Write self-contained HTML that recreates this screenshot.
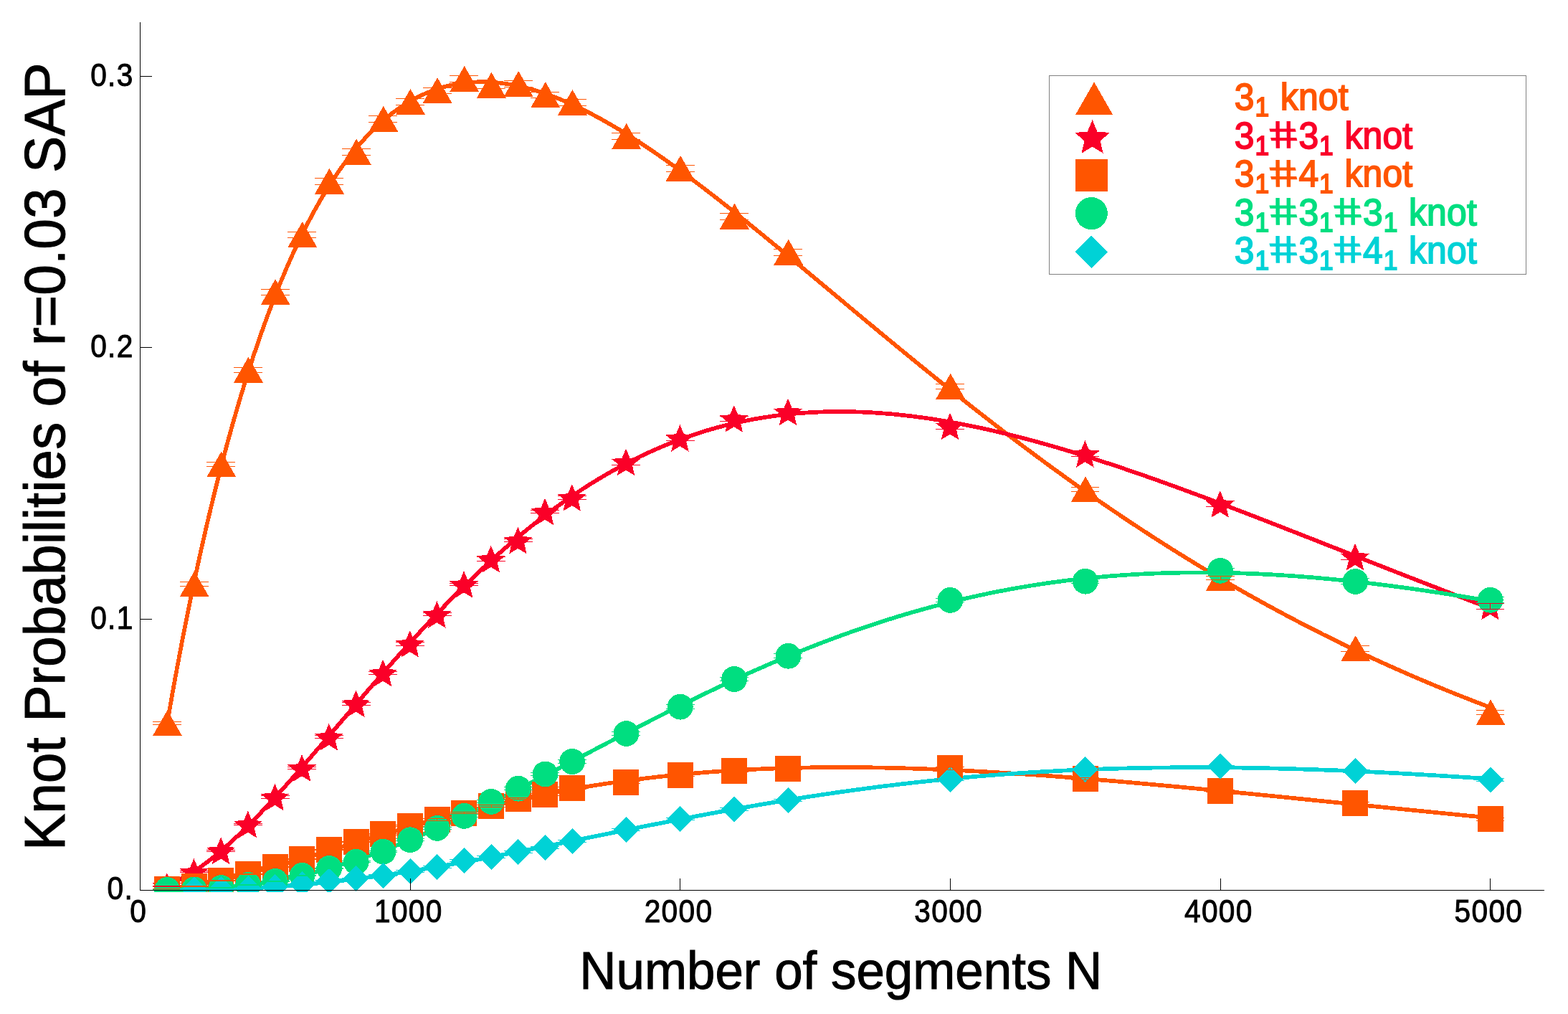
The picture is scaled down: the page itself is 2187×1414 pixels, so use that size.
<!DOCTYPE html>
<html lang="en"><head><meta charset="utf-8"><title>Knot Probabilities of r=0.03 SAP</title>
<style>html,body{margin:0;padding:0;background:#fff;}body{width:2187px;height:1414px;overflow:hidden;}svg{display:block;}text{font-family:"Liberation Sans",sans-serif;}</style>
</head><body>
<svg width="2187" height="1414" viewBox="0 0 2187 1414" role="img" aria-label="Knot Probabilities of r=0.03 SAP versus Number of segments N">
<rect width="2187" height="1414" fill="#fff"/>
<defs><clipPath id="pc"><rect x="190" y="20" width="1980" height="1224"/></clipPath></defs>
<g clip-path="url(#pc)">
<g fill="none" stroke-width="5.7" stroke-linejoin="round" shape-rendering="crispEdges">
<path d="M233.16 1008.66 L242.44 956.01 L251.71 906.15 L260.99 858.84 L270.26 813.87 L279.54 771.1 L288.81 730.41 L298.09 691.68 L307.36 654.82 L316.63 619.75 L325.91 586.37 L335.18 554.62 L344.46 524.44 L353.73 495.75 L363.01 468.51 L372.28 442.65 L381.55 418.12 L390.83 394.87 L400.1 372.86 L409.38 352.03 L418.65 332.35 L427.93 313.78 L437.2 296.28 L446.47 279.8 L455.75 264.31 L465.02 249.77 L474.3 236.16 L483.57 223.44 L492.85 211.57 L502.12 200.54 L511.39 190.3 L520.67 180.83 L529.94 172.1 L539.22 164.09 L548.49 156.77 L557.77 150.11 L567.04 144.1 L576.31 138.71 L585.59 133.91 L594.86 129.69 L604.14 126.02 L613.41 122.89 L622.69 120.27 L631.96 118.14 L641.23 116.49 L650.51 115.3 L659.78 114.56 L669.06 114.23 L678.33 114.32 L687.61 114.8 L696.88 115.66 L706.15 116.87 L715.43 118.44 L724.7 120.35 L733.98 122.57 L743.25 125.1 L752.53 127.93 L761.8 131.04 L771.07 134.42 L780.35 138.06 L789.62 141.95 L798.9 146.08 L808.17 150.43 L817.45 155.01 L826.72 159.79 L835.99 164.76 L845.27 169.93 L854.54 175.28 L863.82 180.8 L873.09 186.48 L882.37 192.31 L891.64 198.29 L900.91 204.41 L910.19 210.66 L919.46 217.04 L928.74 223.54 L938.01 230.14 L947.29 236.85 L956.56 243.66 L965.83 250.56 L975.11 257.55 L984.38 264.62 L993.66 271.76 L1002.93 278.97 L1012.21 286.25 L1021.48 293.59 L1030.75 300.98 L1040.03 308.42 L1049.3 315.91 L1058.58 323.44 L1067.85 331.01 L1077.13 338.61 L1086.4 346.24 L1095.67 353.9 L1104.95 361.58 L1114.22 369.27 L1123.5 376.99 L1132.77 384.71 L1142.05 392.45 L1151.32 400.19 L1160.59 407.93 L1169.87 415.67 L1179.14 423.42 L1188.42 431.15 L1197.69 438.88 L1206.97 446.6 L1216.24 454.31 L1225.51 462 L1234.79 469.67 L1244.06 477.33 L1253.34 484.97 L1262.61 492.58 L1271.89 500.17 L1281.16 507.74 L1290.43 515.27 L1299.71 522.78 L1308.98 530.26 L1318.26 537.7 L1327.53 545.12 L1336.81 552.49 L1346.08 559.84 L1355.35 567.14 L1364.63 574.41 L1373.9 581.63 L1383.18 588.82 L1392.45 595.96 L1401.73 603.06 L1411 610.12 L1420.27 617.14 L1429.55 624.11 L1438.82 631.03 L1448.1 637.91 L1457.37 644.74 L1466.65 651.53 L1475.92 658.27 L1485.2 664.95 L1494.47 671.59 L1503.74 678.18 L1513.02 684.72 L1522.29 691.21 L1531.57 697.65 L1540.84 704.03 L1550.12 710.37 L1559.39 716.65 L1568.66 722.88 L1577.94 729.06 L1587.21 735.19 L1596.49 741.27 L1605.76 747.29 L1615.04 753.26 L1624.31 759.17 L1633.58 765.04 L1642.86 770.85 L1652.13 776.61 L1661.41 782.31 L1670.68 787.96 L1679.96 793.56 L1689.23 799.11 L1698.5 804.6 L1707.78 810.04 L1717.05 815.43 L1726.33 820.76 L1735.6 826.05 L1744.88 831.28 L1754.15 836.45 L1763.42 841.58 L1772.7 846.65 L1781.97 851.67 L1791.25 856.64 L1800.52 861.56 L1809.8 866.43 L1819.07 871.25 L1828.34 876.01 L1837.62 880.73 L1846.89 885.39 L1856.17 890.01 L1865.44 894.57 L1874.72 899.09 L1883.99 903.56 L1893.26 907.97 L1902.54 912.34 L1911.81 916.67 L1921.09 920.94 L1930.36 925.16 L1939.64 929.34 L1948.91 933.47 L1958.18 937.56 L1967.46 941.6 L1976.73 945.59 L1986.01 949.53 L1995.28 953.43 L2004.56 957.29 L2013.83 961.1 L2023.1 964.87 L2032.38 968.59 L2041.65 972.27 L2050.93 975.9 L2060.2 979.5 L2069.48 983.05 L2078.75 986.55" stroke="#ff5500"/>
<path d="M233.16 1234.47 L242.44 1230.68 L251.71 1226.2 L260.99 1221.07 L270.26 1215.34 L279.54 1209.07 L288.81 1202.29 L298.09 1195.05 L307.36 1187.37 L316.63 1179.3 L325.91 1170.86 L335.18 1162.09 L344.46 1153.02 L353.73 1143.68 L363.01 1134.1 L372.28 1124.29 L381.55 1114.29 L390.83 1104.12 L400.1 1093.79 L409.38 1083.34 L418.65 1072.78 L427.93 1062.12 L437.2 1051.4 L446.47 1040.62 L455.75 1029.79 L465.02 1018.95 L474.3 1008.09 L483.57 997.24 L492.85 986.4 L502.12 975.6 L511.39 964.83 L520.67 954.12 L529.94 943.47 L539.22 932.89 L548.49 922.39 L557.77 911.98 L567.04 901.67 L576.31 891.47 L585.59 881.38 L594.86 871.4 L604.14 861.56 L613.41 851.84 L622.69 842.26 L631.96 832.83 L641.23 823.54 L650.51 814.4 L659.78 805.41 L669.06 796.59 L678.33 787.92 L687.61 779.42 L696.88 771.09 L706.15 762.93 L715.43 754.94 L724.7 747.12 L733.98 739.48 L743.25 732.02 L752.53 724.74 L761.8 717.63 L771.07 710.71 L780.35 703.97 L789.62 697.4 L798.9 691.02 L808.17 684.83 L817.45 678.81 L826.72 672.97 L835.99 667.32 L845.27 661.85 L854.54 656.56 L863.82 651.44 L873.09 646.51 L882.37 641.75 L891.64 637.17 L900.91 632.77 L910.19 628.54 L919.46 624.48 L928.74 620.6 L938.01 616.88 L947.29 613.34 L956.56 609.96 L965.83 606.75 L975.11 603.7 L984.38 600.81 L993.66 598.08 L1002.93 595.51 L1012.21 593.1 L1021.48 590.84 L1030.75 588.73 L1040.03 586.78 L1049.3 584.97 L1058.58 583.31 L1067.85 581.79 L1077.13 580.42 L1086.4 579.18 L1095.67 578.08 L1104.95 577.12 L1114.22 576.29 L1123.5 575.59 L1132.77 575.02 L1142.05 574.58 L1151.32 574.26 L1160.59 574.06 L1169.87 573.98 L1179.14 574.02 L1188.42 574.18 L1197.69 574.45 L1206.97 574.83 L1216.24 575.32 L1225.51 575.91 L1234.79 576.61 L1244.06 577.41 L1253.34 578.31 L1262.61 579.31 L1271.89 580.41 L1281.16 581.6 L1290.43 582.88 L1299.71 584.24 L1308.98 585.7 L1318.26 587.24 L1327.53 588.86 L1336.81 590.57 L1346.08 592.35 L1355.35 594.21 L1364.63 596.14 L1373.9 598.15 L1383.18 600.23 L1392.45 602.38 L1401.73 604.59 L1411 606.87 L1420.27 609.22 L1429.55 611.62 L1438.82 614.08 L1448.1 616.61 L1457.37 619.19 L1466.65 621.82 L1475.92 624.5 L1485.2 627.24 L1494.47 630.03 L1503.74 632.86 L1513.02 635.74 L1522.29 638.66 L1531.57 641.63 L1540.84 644.64 L1550.12 647.68 L1559.39 650.77 L1568.66 653.89 L1577.94 657.05 L1587.21 660.24 L1596.49 663.46 L1605.76 666.72 L1615.04 670 L1624.31 673.31 L1633.58 676.65 L1642.86 680.02 L1652.13 683.41 L1661.41 686.82 L1670.68 690.26 L1679.96 693.71 L1689.23 697.19 L1698.5 700.68 L1707.78 704.19 L1717.05 707.72 L1726.33 711.26 L1735.6 714.82 L1744.88 718.39 L1754.15 721.97 L1763.42 725.56 L1772.7 729.16 L1781.97 732.77 L1791.25 736.39 L1800.52 740.02 L1809.8 743.65 L1819.07 747.29 L1828.34 750.93 L1837.62 754.58 L1846.89 758.23 L1856.17 761.88 L1865.44 765.53 L1874.72 769.18 L1883.99 772.83 L1893.26 776.48 L1902.54 780.13 L1911.81 783.78 L1921.09 787.42 L1930.36 791.06 L1939.64 794.7 L1948.91 798.33 L1958.18 801.95 L1967.46 805.57 L1976.73 809.18 L1986.01 812.79 L1995.28 816.38 L2004.56 819.97 L2013.83 823.55 L2023.1 827.12 L2032.38 830.68 L2041.65 834.23 L2050.93 837.77 L2060.2 841.29 L2069.48 844.81 L2078.75 848.31" stroke="#fa0028"/>
<path d="M233.16 1239.47 L242.44 1238.48 L251.71 1237.33 L260.99 1236.01 L270.26 1234.54 L279.54 1232.94 L288.81 1231.21 L298.09 1229.36 L307.36 1227.41 L316.63 1225.35 L325.91 1223.2 L335.18 1220.97 L344.46 1218.66 L353.73 1216.28 L363.01 1213.84 L372.28 1211.34 L381.55 1208.79 L390.83 1206.2 L400.1 1203.57 L409.38 1200.9 L418.65 1198.21 L427.93 1195.49 L437.2 1192.75 L446.47 1190 L455.75 1187.24 L465.02 1184.47 L474.3 1181.69 L483.57 1178.92 L492.85 1176.15 L502.12 1173.38 L511.39 1170.63 L520.67 1167.89 L529.94 1165.16 L539.22 1162.45 L548.49 1159.76 L557.77 1157.1 L567.04 1154.46 L576.31 1151.84 L585.59 1149.25 L594.86 1146.7 L604.14 1144.17 L613.41 1141.68 L622.69 1139.22 L631.96 1136.8 L641.23 1134.41 L650.51 1132.07 L659.78 1129.76 L669.06 1127.49 L678.33 1125.26 L687.61 1123.08 L696.88 1120.94 L706.15 1118.84 L715.43 1116.78 L724.7 1114.77 L733.98 1112.81 L743.25 1110.89 L752.53 1109.01 L761.8 1107.18 L771.07 1105.4 L780.35 1103.66 L789.62 1101.97 L798.9 1100.33 L808.17 1098.73 L817.45 1097.18 L826.72 1095.67 L835.99 1094.22 L845.27 1092.8 L854.54 1091.44 L863.82 1090.12 L873.09 1088.84 L882.37 1087.62 L891.64 1086.43 L900.91 1085.29 L910.19 1084.2 L919.46 1083.15 L928.74 1082.15 L938.01 1081.19 L947.29 1080.27 L956.56 1079.4 L965.83 1078.56 L975.11 1077.77 L984.38 1077.02 L993.66 1076.32 L1002.93 1075.65 L1012.21 1075.02 L1021.48 1074.44 L1030.75 1073.89 L1040.03 1073.38 L1049.3 1072.91 L1058.58 1072.48 L1067.85 1072.08 L1077.13 1071.72 L1086.4 1071.4 L1095.67 1071.11 L1104.95 1070.86 L1114.22 1070.64 L1123.5 1070.46 L1132.77 1070.31 L1142.05 1070.19 L1151.32 1070.1 L1160.59 1070.05 L1169.87 1070.02 L1179.14 1070.03 L1188.42 1070.06 L1197.69 1070.13 L1206.97 1070.22 L1216.24 1070.34 L1225.51 1070.49 L1234.79 1070.67 L1244.06 1070.87 L1253.34 1071.1 L1262.61 1071.35 L1271.89 1071.63 L1281.16 1071.93 L1290.43 1072.26 L1299.71 1072.61 L1308.98 1072.98 L1318.26 1073.37 L1327.53 1073.79 L1336.81 1074.22 L1346.08 1074.68 L1355.35 1075.16 L1364.63 1075.65 L1373.9 1076.17 L1383.18 1076.7 L1392.45 1077.25 L1401.73 1077.82 L1411 1078.4 L1420.27 1079 L1429.55 1079.62 L1438.82 1080.25 L1448.1 1080.9 L1457.37 1081.56 L1466.65 1082.24 L1475.92 1082.93 L1485.2 1083.63 L1494.47 1084.35 L1503.74 1085.07 L1513.02 1085.81 L1522.29 1086.57 L1531.57 1087.33 L1540.84 1088.1 L1550.12 1088.88 L1559.39 1089.68 L1568.66 1090.48 L1577.94 1091.29 L1587.21 1092.11 L1596.49 1092.94 L1605.76 1093.78 L1615.04 1094.62 L1624.31 1095.48 L1633.58 1096.34 L1642.86 1097.2 L1652.13 1098.07 L1661.41 1098.95 L1670.68 1099.84 L1679.96 1100.73 L1689.23 1101.62 L1698.5 1102.52 L1707.78 1103.42 L1717.05 1104.33 L1726.33 1105.24 L1735.6 1106.16 L1744.88 1107.08 L1754.15 1108 L1763.42 1108.92 L1772.7 1109.85 L1781.97 1110.78 L1791.25 1111.71 L1800.52 1112.64 L1809.8 1113.58 L1819.07 1114.52 L1828.34 1115.45 L1837.62 1116.39 L1846.89 1117.33 L1856.17 1118.27 L1865.44 1119.21 L1874.72 1120.15 L1883.99 1121.09 L1893.26 1122.03 L1902.54 1122.97 L1911.81 1123.91 L1921.09 1124.85 L1930.36 1125.79 L1939.64 1126.72 L1948.91 1127.66 L1958.18 1128.59 L1967.46 1129.52 L1976.73 1130.45 L1986.01 1131.38 L1995.28 1132.31 L2004.56 1133.23 L2013.83 1134.15 L2023.1 1135.07 L2032.38 1135.99 L2041.65 1136.9 L2050.93 1137.81 L2060.2 1138.72 L2069.48 1139.63 L2078.75 1140.53" stroke="#ff5500"/>
<path d="M233.16 1241.26 L242.44 1241.13 L251.71 1240.95 L260.99 1240.69 L270.26 1240.37 L279.54 1239.96 L288.81 1239.46 L298.09 1238.87 L307.36 1238.18 L316.63 1237.39 L325.91 1236.49 L335.18 1235.48 L344.46 1234.36 L353.73 1233.13 L363.01 1231.78 L372.28 1230.31 L381.55 1228.72 L390.83 1227.02 L400.1 1225.19 L409.38 1223.25 L418.65 1221.19 L427.93 1219.01 L437.2 1216.71 L446.47 1214.3 L455.75 1211.77 L465.02 1209.13 L474.3 1206.38 L483.57 1203.51 L492.85 1200.54 L502.12 1197.47 L511.39 1194.29 L520.67 1191.02 L529.94 1187.64 L539.22 1184.17 L548.49 1180.61 L557.77 1176.96 L567.04 1173.23 L576.31 1169.41 L585.59 1165.51 L594.86 1161.54 L604.14 1157.49 L613.41 1153.37 L622.69 1149.18 L631.96 1144.93 L641.23 1140.62 L650.51 1136.25 L659.78 1131.83 L669.06 1127.36 L678.33 1122.84 L687.61 1118.28 L696.88 1113.67 L706.15 1109.03 L715.43 1104.36 L724.7 1099.65 L733.98 1094.91 L743.25 1090.15 L752.53 1085.37 L761.8 1080.57 L771.07 1075.75 L780.35 1070.92 L789.62 1066.08 L798.9 1061.23 L808.17 1056.37 L817.45 1051.52 L826.72 1046.67 L835.99 1041.82 L845.27 1036.98 L854.54 1032.14 L863.82 1027.32 L873.09 1022.51 L882.37 1017.72 L891.64 1012.94 L900.91 1008.19 L910.19 1003.46 L919.46 998.75 L928.74 994.07 L938.01 989.43 L947.29 984.81 L956.56 980.22 L965.83 975.67 L975.11 971.16 L984.38 966.69 L993.66 962.25 L1002.93 957.86 L1012.21 953.51 L1021.48 949.21 L1030.75 944.95 L1040.03 940.74 L1049.3 936.58 L1058.58 932.47 L1067.85 928.41 L1077.13 924.4 L1086.4 920.45 L1095.67 916.55 L1104.95 912.71 L1114.22 908.93 L1123.5 905.2 L1132.77 901.53 L1142.05 897.93 L1151.32 894.38 L1160.59 890.89 L1169.87 887.46 L1179.14 884.1 L1188.42 880.8 L1197.69 877.56 L1206.97 874.39 L1216.24 871.28 L1225.51 868.24 L1234.79 865.26 L1244.06 862.35 L1253.34 859.5 L1262.61 856.72 L1271.89 854 L1281.16 851.36 L1290.43 848.77 L1299.71 846.26 L1308.98 843.81 L1318.26 841.43 L1327.53 839.12 L1336.81 836.87 L1346.08 834.69 L1355.35 832.58 L1364.63 830.53 L1373.9 828.55 L1383.18 826.64 L1392.45 824.79 L1401.73 823.01 L1411 821.29 L1420.27 819.64 L1429.55 818.06 L1438.82 816.54 L1448.1 815.08 L1457.37 813.69 L1466.65 812.36 L1475.92 811.1 L1485.2 809.9 L1494.47 808.76 L1503.74 807.69 L1513.02 806.67 L1522.29 805.72 L1531.57 804.83 L1540.84 804 L1550.12 803.23 L1559.39 802.52 L1568.66 801.87 L1577.94 801.28 L1587.21 800.74 L1596.49 800.26 L1605.76 799.84 L1615.04 799.48 L1624.31 799.17 L1633.58 798.91 L1642.86 798.71 L1652.13 798.56 L1661.41 798.47 L1670.68 798.43 L1679.96 798.44 L1689.23 798.5 L1698.5 798.61 L1707.78 798.77 L1717.05 798.98 L1726.33 799.24 L1735.6 799.55 L1744.88 799.9 L1754.15 800.3 L1763.42 800.75 L1772.7 801.24 L1781.97 801.77 L1791.25 802.35 L1800.52 802.98 L1809.8 803.64 L1819.07 804.35 L1828.34 805.09 L1837.62 805.88 L1846.89 806.71 L1856.17 807.57 L1865.44 808.48 L1874.72 809.42 L1883.99 810.4 L1893.26 811.41 L1902.54 812.46 L1911.81 813.54 L1921.09 814.66 L1930.36 815.81 L1939.64 817 L1948.91 818.21 L1958.18 819.46 L1967.46 820.74 L1976.73 822.05 L1986.01 823.39 L1995.28 824.75 L2004.56 826.15 L2013.83 827.57 L2023.1 829.02 L2032.38 830.5 L2041.65 832 L2050.93 833.52 L2060.2 835.07 L2069.48 836.65 L2078.75 838.24" stroke="#00de80"/>
<path d="M270.83 1241.02 L279.92 1240.87 L289 1240.69 L298.09 1240.48 L307.17 1240.23 L316.26 1239.95 L325.34 1239.63 L334.43 1239.27 L343.51 1238.87 L352.6 1238.42 L361.68 1237.94 L370.77 1237.41 L379.85 1236.84 L388.94 1236.23 L398.02 1235.57 L407.11 1234.87 L416.19 1234.12 L425.28 1233.34 L434.36 1232.5 L443.45 1231.63 L452.53 1230.71 L461.62 1229.75 L470.7 1228.74 L479.79 1227.7 L488.87 1226.62 L497.96 1225.49 L507.04 1224.33 L516.13 1223.13 L525.21 1221.89 L534.3 1220.61 L543.38 1219.3 L552.47 1217.96 L561.55 1216.58 L570.64 1215.17 L579.72 1213.73 L588.81 1212.25 L597.89 1210.75 L606.98 1209.22 L616.06 1207.67 L625.15 1206.09 L634.23 1204.48 L643.32 1202.85 L652.4 1201.2 L661.49 1199.53 L670.57 1197.84 L679.66 1196.13 L688.74 1194.4 L697.83 1192.66 L706.91 1190.9 L716 1189.13 L725.08 1187.35 L734.17 1185.55 L743.25 1183.75 L752.34 1181.93 L761.42 1180.11 L770.51 1178.28 L779.59 1176.45 L788.68 1174.61 L797.76 1172.77 L806.85 1170.92 L815.93 1169.08 L825.02 1167.23 L834.1 1165.38 L843.19 1163.54 L852.27 1161.69 L861.36 1159.86 L870.44 1158.02 L879.53 1156.19 L888.61 1154.37 L897.7 1152.55 L906.78 1150.74 L915.87 1148.94 L924.95 1147.15 L934.04 1145.37 L943.12 1143.6 L952.21 1141.84 L961.29 1140.1 L970.38 1138.37 L979.46 1136.65 L988.55 1134.94 L997.63 1133.26 L1006.72 1131.58 L1015.8 1129.92 L1024.89 1128.28 L1033.97 1126.66 L1043.06 1125.06 L1052.14 1123.47 L1061.23 1121.9 L1070.31 1120.35 L1079.4 1118.83 L1088.48 1117.32 L1097.57 1115.83 L1106.65 1114.36 L1115.74 1112.92 L1124.82 1111.49 L1133.91 1110.09 L1142.99 1108.71 L1152.08 1107.35 L1161.16 1106.02 L1170.25 1104.71 L1179.33 1103.42 L1188.42 1102.16 L1197.5 1100.92 L1206.59 1099.7 L1215.67 1098.51 L1224.76 1097.34 L1233.84 1096.2 L1242.93 1095.08 L1252.01 1093.99 L1261.1 1092.92 L1270.18 1091.88 L1279.27 1090.86 L1288.35 1089.87 L1297.44 1088.9 L1306.52 1087.96 L1315.61 1087.04 L1324.69 1086.15 L1333.78 1085.28 L1342.86 1084.44 L1351.95 1083.62 L1361.03 1082.83 L1370.12 1082.07 L1379.2 1081.33 L1388.29 1080.61 L1397.37 1079.92 L1406.46 1079.26 L1415.54 1078.62 L1424.63 1078 L1433.71 1077.41 L1442.8 1076.84 L1451.88 1076.3 L1460.97 1075.78 L1470.05 1075.29 L1479.14 1074.82 L1488.22 1074.37 L1497.31 1073.95 L1506.39 1073.55 L1515.48 1073.18 L1524.56 1072.83 L1533.65 1072.5 L1542.73 1072.19 L1551.82 1071.91 L1560.9 1071.65 L1569.99 1071.41 L1579.07 1071.19 L1588.16 1071 L1597.24 1070.82 L1606.33 1070.67 L1615.41 1070.54 L1624.5 1070.43 L1633.58 1070.34 L1642.67 1070.28 L1651.75 1070.23 L1660.84 1070.2 L1669.92 1070.19 L1679.01 1070.21 L1688.09 1070.24 L1697.18 1070.29 L1706.26 1070.36 L1715.35 1070.44 L1724.43 1070.55 L1733.52 1070.67 L1742.6 1070.81 L1751.69 1070.97 L1760.77 1071.15 L1769.86 1071.34 L1778.94 1071.56 L1788.03 1071.78 L1797.11 1072.03 L1806.2 1072.29 L1815.28 1072.56 L1824.37 1072.85 L1833.45 1073.16 L1842.54 1073.48 L1851.62 1073.82 L1860.71 1074.17 L1869.79 1074.53 L1878.88 1074.91 L1887.96 1075.3 L1897.05 1075.71 L1906.13 1076.13 L1915.22 1076.56 L1924.3 1077 L1933.39 1077.46 L1942.47 1077.93 L1951.56 1078.41 L1960.64 1078.9 L1969.73 1079.41 L1978.81 1079.92 L1987.9 1080.45 L1996.98 1080.99 L2006.07 1081.53 L2015.15 1082.09 L2024.24 1082.66 L2033.32 1083.24 L2042.41 1083.82 L2051.49 1084.42 L2060.58 1085.03 L2069.66 1085.64 L2078.75 1086.26" stroke="#00d2d6"/>
</g>
<g fill="#ff5500" shape-rendering="crispEdges">
<polygon points="233.47,990.3 253.97,1026.2 212.97,1026.2"/>
<polygon points="271.13,796.4 291.63,832.3 250.63,832.3"/>
<polygon points="308.8,629.4 329.3,665.3 288.3,665.3"/>
<polygon points="346.46,497.8 366.96,533.7 325.96,533.7"/>
<polygon points="384.12,389.2 404.62,425.1 363.62,425.1"/>
<polygon points="421.79,309.2 442.29,345.1 401.29,345.1"/>
<polygon points="459.45,234.7 479.95,270.6 438.95,270.6"/>
<polygon points="497.12,193.7 517.62,229.6 476.62,229.6"/>
<polygon points="534.78,147.8 555.28,183.7 514.28,183.7"/>
<polygon points="572.45,124 592.95,159.9 551.95,159.9"/>
<polygon points="610.12,108.1 630.62,144 589.62,144"/>
<polygon points="647.78,92 668.28,127.9 627.28,127.9"/>
<polygon points="685.44,100.8 705.94,136.7 664.94,136.7"/>
<polygon points="723.11,99 743.61,134.9 702.61,134.9"/>
<polygon points="760.77,114.2 781.27,150.1 740.27,150.1"/>
<polygon points="798.44,125 818.94,160.9 777.94,160.9"/>
<polygon points="873.77,172 894.27,207.9 853.27,207.9"/>
<polygon points="949.1,216.9 969.6,252.8 928.6,252.8"/>
<polygon points="1024.43,283.6 1044.93,319.5 1003.93,319.5"/>
<polygon points="1099.76,333.8 1120.26,369.7 1079.26,369.7"/>
<polygon points="1325.75,520.8 1346.25,556.7 1305.25,556.7"/>
<polygon points="1514.07,664.4 1534.57,700.3 1493.57,700.3"/>
<polygon points="1702.4,787.8 1722.9,823.7 1681.9,823.7"/>
<polygon points="1890.72,886.2 1911.22,922.1 1870.22,922.1"/>
<polygon points="2079.05,975.4 2099.55,1011.3 2058.55,1011.3"/>
</g>
<g fill="#fa0028" shape-rendering="crispEdges">
<polygon points="232.76,1217.11 238.29,1230.31 252.55,1231.48 241.7,1240.81 244.99,1254.74 232.76,1247.31 220.54,1254.74 223.83,1240.81 212.98,1231.48 227.24,1230.31"/>
<polygon points="270.43,1197.11 275.96,1210.31 290.21,1211.48 279.37,1220.81 282.66,1234.74 270.43,1227.31 258.2,1234.74 261.49,1220.81 250.65,1211.48 264.9,1210.31"/>
<polygon points="308.1,1167.41 313.62,1180.61 327.88,1181.78 317.03,1191.11 320.32,1205.04 308.1,1197.61 295.87,1205.04 299.16,1191.11 288.31,1181.78 302.57,1180.61"/>
<polygon points="345.76,1130.61 351.29,1143.81 365.54,1144.98 354.7,1154.31 357.99,1168.24 345.76,1160.81 333.53,1168.24 336.82,1154.31 325.98,1144.98 340.23,1143.81"/>
<polygon points="383.43,1092.61 388.95,1105.81 403.21,1106.98 392.36,1116.31 395.65,1130.24 383.43,1122.81 371.2,1130.24 374.49,1116.31 363.64,1106.98 377.9,1105.81"/>
<polygon points="421.09,1052.11 426.62,1065.31 440.87,1066.48 430.03,1075.81 433.32,1089.74 421.09,1082.31 408.86,1089.74 412.15,1075.81 401.31,1066.48 415.56,1065.31"/>
<polygon points="458.75,1008.81 464.28,1022.01 478.54,1023.18 467.69,1032.51 470.98,1046.44 458.75,1039.01 446.53,1046.44 449.82,1032.51 438.97,1023.18 453.23,1022.01"/>
<polygon points="496.42,962.41 501.95,975.61 516.2,976.78 505.36,986.11 508.65,1000.04 496.42,992.61 484.19,1000.04 487.48,986.11 476.64,976.78 490.89,975.61"/>
<polygon points="534.09,919.61 539.61,932.81 553.87,933.98 543.02,943.31 546.31,957.24 534.09,949.81 521.86,957.24 525.15,943.31 514.3,933.98 528.56,932.81"/>
<polygon points="571.75,878.91 577.28,892.11 591.53,893.28 580.69,902.61 583.98,916.54 571.75,909.11 559.52,916.54 562.81,902.61 551.97,893.28 566.22,892.11"/>
<polygon points="609.42,838.11 614.94,851.31 629.2,852.48 618.35,861.81 621.64,875.74 609.42,868.31 597.19,875.74 600.48,861.81 589.63,852.48 603.89,851.31"/>
<polygon points="647.08,796.11 652.61,809.31 666.86,810.48 656.02,819.81 659.31,833.74 647.08,826.31 634.85,833.74 638.14,819.81 627.3,810.48 641.55,809.31"/>
<polygon points="684.75,760.71 690.27,773.91 704.53,775.08 693.68,784.41 696.97,798.34 684.75,790.91 672.52,798.34 675.81,784.41 664.96,775.08 679.22,773.91"/>
<polygon points="722.41,734.71 727.94,747.91 742.19,749.08 731.35,758.41 734.64,772.34 722.41,764.91 710.18,772.34 713.47,758.41 702.63,749.08 716.88,747.91"/>
<polygon points="760.08,694.61 765.6,707.81 779.86,708.98 769.01,718.31 772.3,732.24 760.08,724.81 747.85,732.24 751.14,718.31 740.29,708.98 754.55,707.81"/>
<polygon points="797.74,675.01 803.27,688.21 817.52,689.38 806.68,698.71 809.97,712.64 797.74,705.21 785.51,712.64 788.8,698.71 777.96,689.38 792.21,688.21"/>
<polygon points="873.07,625.51 878.6,638.71 892.85,639.88 882.01,649.21 885.3,663.14 873.07,655.71 860.84,663.14 864.13,649.21 853.29,639.88 867.54,638.71"/>
<polygon points="948.4,592.11 953.93,605.31 968.18,606.48 957.34,615.81 960.63,629.74 948.4,622.31 936.17,629.74 939.46,615.81 928.62,606.48 942.87,605.31"/>
<polygon points="1023.73,565.01 1029.26,578.21 1043.51,579.38 1032.67,588.71 1035.96,602.64 1023.73,595.21 1011.5,602.64 1014.79,588.71 1003.95,579.38 1018.2,578.21"/>
<polygon points="1099.06,555.51 1104.59,568.71 1118.84,569.88 1108,579.21 1111.29,593.14 1099.06,585.71 1086.83,593.14 1090.12,579.21 1079.28,569.88 1093.53,568.71"/>
<polygon points="1325.05,575.51 1330.58,588.71 1344.83,589.88 1333.99,599.21 1337.28,613.14 1325.05,605.71 1312.82,613.14 1316.11,599.21 1305.27,589.88 1319.52,588.71"/>
<polygon points="1513.37,614.11 1518.9,627.31 1533.16,628.48 1522.31,637.81 1525.6,651.74 1513.37,644.31 1501.15,651.74 1504.44,637.81 1493.59,628.48 1507.85,627.31"/>
<polygon points="1701.7,684.11 1707.23,697.31 1721.48,698.48 1710.64,707.81 1713.93,721.74 1701.7,714.31 1689.47,721.74 1692.76,707.81 1681.92,698.48 1696.17,697.31"/>
<polygon points="1890.02,757.71 1895.55,770.91 1909.81,772.08 1898.96,781.41 1902.25,795.34 1890.02,787.91 1877.8,795.34 1881.09,781.41 1870.24,772.08 1884.5,770.91"/>
<polygon points="2078.35,826.61 2083.88,839.81 2098.13,840.98 2087.29,850.31 2090.58,864.24 2078.35,856.81 2066.12,864.24 2069.41,850.31 2058.57,840.98 2072.82,839.81"/>
</g>
<g fill="#ff5500" shape-rendering="crispEdges">
<rect x="215" y="1222" width="36" height="36"/>
<rect x="253" y="1218" width="36" height="36"/>
<rect x="290" y="1210" width="36" height="36"/>
<rect x="328" y="1201" width="36" height="36"/>
<rect x="366" y="1191" width="36" height="36"/>
<rect x="403" y="1180" width="36" height="36"/>
<rect x="441" y="1167" width="36" height="36"/>
<rect x="479" y="1156" width="36" height="36"/>
<rect x="516" y="1145" width="36" height="36"/>
<rect x="554" y="1134" width="36" height="36"/>
<rect x="592" y="1125" width="36" height="36"/>
<rect x="629" y="1116" width="36" height="36"/>
<rect x="667" y="1106" width="36" height="36"/>
<rect x="705" y="1096" width="36" height="36"/>
<rect x="742" y="1090" width="36" height="36"/>
<rect x="780" y="1081" width="36" height="36"/>
<rect x="855" y="1073" width="36" height="36"/>
<rect x="931" y="1063" width="36" height="36"/>
<rect x="1006" y="1057" width="36" height="36"/>
<rect x="1081" y="1054" width="36" height="36"/>
<rect x="1307" y="1053" width="36" height="36"/>
<rect x="1496" y="1068" width="36" height="36"/>
<rect x="1684" y="1085" width="36" height="36"/>
<rect x="1872" y="1102" width="36" height="36"/>
<rect x="2061" y="1124" width="36" height="36"/>
</g>
<g fill="#00de80" shape-rendering="crispEdges">
<circle cx="233.16" cy="1241" r="17.9"/>
<circle cx="270.83" cy="1240.4" r="17.9"/>
<circle cx="308.5" cy="1238" r="17.9"/>
<circle cx="346.16" cy="1234" r="17.9"/>
<circle cx="383.82" cy="1228.9" r="17.9"/>
<circle cx="421.49" cy="1220.9" r="17.9"/>
<circle cx="459.15" cy="1210.9" r="17.9"/>
<circle cx="496.82" cy="1201.8" r="17.9"/>
<circle cx="534.49" cy="1187.6" r="17.9"/>
<circle cx="572.15" cy="1171.2" r="17.9"/>
<circle cx="609.82" cy="1154.9" r="17.9"/>
<circle cx="647.48" cy="1137.9" r="17.9"/>
<circle cx="685.14" cy="1117.9" r="17.9"/>
<circle cx="722.81" cy="1099.7" r="17.9"/>
<circle cx="760.48" cy="1079.5" r="17.9"/>
<circle cx="798.14" cy="1062" r="17.9"/>
<circle cx="873.47" cy="1023" r="17.9"/>
<circle cx="948.8" cy="985.7" r="17.9"/>
<circle cx="1024.13" cy="947" r="17.9"/>
<circle cx="1099.46" cy="914.8" r="17.9"/>
<circle cx="1325.45" cy="836.9" r="17.9"/>
<circle cx="1513.77" cy="810.7" r="17.9"/>
<circle cx="1702.1" cy="795.8" r="17.9"/>
<circle cx="1890.42" cy="811" r="17.9"/>
<circle cx="2078.75" cy="836.8" r="17.9"/>
</g>
<g fill="#00d2d6" shape-rendering="crispEdges">
<polygon points="270.83,1222.2 288.83,1240.2 270.83,1258.2 252.83,1240.2"/>
<polygon points="308.5,1222 326.5,1240 308.5,1258 290.5,1240"/>
<polygon points="346.16,1221 364.16,1239 346.16,1257 328.16,1239"/>
<polygon points="383.82,1218.9 401.82,1236.9 383.82,1254.9 365.82,1236.9"/>
<polygon points="421.49,1215.4 439.49,1233.4 421.49,1251.4 403.49,1233.4"/>
<polygon points="459.15,1210.7 477.15,1228.7 459.15,1246.7 441.15,1228.7"/>
<polygon points="496.82,1206.9 514.82,1224.9 496.82,1242.9 478.82,1224.9"/>
<polygon points="534.49,1202.8 552.49,1220.8 534.49,1238.8 516.49,1220.8"/>
<polygon points="572.15,1196.9 590.15,1214.9 572.15,1232.9 554.15,1214.9"/>
<polygon points="609.82,1191.1 627.82,1209.1 609.82,1227.1 591.82,1209.1"/>
<polygon points="647.48,1182.1 665.48,1200.1 647.48,1218.1 629.48,1200.1"/>
<polygon points="685.14,1177.1 703.14,1195.1 685.14,1213.1 667.14,1195.1"/>
<polygon points="722.81,1169.9 740.81,1187.9 722.81,1205.9 704.81,1187.9"/>
<polygon points="760.48,1163.7 778.48,1181.7 760.48,1199.7 742.48,1181.7"/>
<polygon points="798.14,1155.1 816.14,1173.1 798.14,1191.1 780.14,1173.1"/>
<polygon points="873.47,1139.1 891.47,1157.1 873.47,1175.1 855.47,1157.1"/>
<polygon points="948.8,1124 966.8,1142 948.8,1160 930.8,1142"/>
<polygon points="1024.13,1110.5 1042.13,1128.5 1024.13,1146.5 1006.13,1128.5"/>
<polygon points="1099.46,1098 1117.46,1116 1099.46,1134 1081.46,1116"/>
<polygon points="1325.45,1069 1343.45,1087 1325.45,1105 1307.45,1087"/>
<polygon points="1513.77,1055 1531.77,1073 1513.77,1091 1495.77,1073"/>
<polygon points="1702.1,1050.9 1720.1,1068.9 1702.1,1086.9 1684.1,1068.9"/>
<polygon points="1890.42,1056.9 1908.42,1074.9 1890.42,1092.9 1872.42,1074.9"/>
<polygon points="2078.75,1069.5 2096.75,1087.5 2078.75,1105.5 2060.75,1087.5"/>
</g>
<g stroke="#ff5500" stroke-width="1" fill="none" shape-rendering="crispEdges">
<path d="M212.97 1006.5H252.86M212.97 1010.5H252.86M233.5 1006.5V1010.5M250.63 811.5H290.53M250.63 817.5H290.53M270.5 811.5V817.5M288.3 644.5H328.19M288.3 650.5H328.19M308.5 644.5V650.5M325.96 512.5H365.86M325.96 519.5H365.86M346.5 512.5V519.5M363.62 403.5H403.52M363.62 411.5H403.52M383.5 403.5V411.5M401.29 323.5H441.19M401.29 331.5H441.19M421.5 323.5V331.5M438.95 248.5H478.85M438.95 257.5H478.85M459.5 248.5V257.5M476.62 207.5H516.52M476.62 216.5H516.52M496.5 207.5V216.5M514.28 161.5H554.19M514.28 170.5H554.19M534.5 161.5V170.5M551.95 137.5H591.85M551.95 146.5H591.85M572.5 137.5V146.5M589.62 122.5H629.52M589.62 130.5H629.52M609.5 122.5V130.5M627.28 105.5H667.18M627.28 114.5H667.18M647.5 105.5V114.5M664.94 114.5H704.85M664.94 123.5H704.85M685.5 114.5V123.5M702.61 112.5H742.51M702.61 121.5H742.51M722.5 112.5V121.5M740.27 128.5H780.18M740.27 136.5H780.18M760.5 128.5V136.5M777.94 138.5H817.84M777.94 147.5H817.84M798.5 138.5V147.5M853.27 185.5H893.17M853.27 194.5H893.17M873.5 185.5V194.5M928.6 230.5H968.5M928.6 239.5H968.5M948.5 230.5V239.5M1003.93 297.5H1043.83M1003.93 306.5H1043.83M1024.5 297.5V306.5M1079.26 347.5H1119.16M1079.26 356.5H1119.16M1099.5 347.5V356.5M1305.25 535.5H1345.15M1305.25 542.5H1345.15M1325.5 535.5V542.5M1493.57 679.5H1533.47M1493.57 685.5H1533.47M1513.5 679.5V685.5M1681.9 803.5H1721.8M1681.9 808.5H1721.8M1702.5 803.5V808.5M1870.22 900.5H1910.12M1870.22 908.5H1910.12M1890.5 900.5V908.5M2058.55 990.5H2098.45M2058.55 996.5H2098.45M2078.5 990.5V996.5"/>
</g>
<g stroke="#fa0028" stroke-width="1" fill="none" shape-rendering="crispEdges">
<path d="M212.97 1235.5H252.86M212.97 1236.5H252.86M233.5 1235.5V1236.5M250.63 1214.5H290.53M250.63 1216.5H290.53M270.5 1214.5V1216.5M288.3 1185.5H328.19M288.3 1187.5H328.19M308.5 1185.5V1187.5M325.96 1148.5H365.86M325.96 1150.5H365.86M346.5 1148.5V1150.5M363.62 1109.5H403.52M363.62 1113.5H403.52M383.5 1109.5V1113.5M401.29 1069.5H441.19M401.29 1072.5H441.19M421.5 1069.5V1072.5M438.95 1025.5H478.85M438.95 1029.5H478.85M459.5 1025.5V1029.5M476.62 979.5H516.52M476.62 983.5H516.52M496.5 979.5V983.5M514.28 936.5H554.19M514.28 940.5H554.19M534.5 936.5V940.5M551.95 895.5H591.85M551.95 900.5H591.85M572.5 895.5V900.5M589.62 854.5H629.52M589.62 858.5H629.52M609.5 854.5V858.5M627.28 813.5H667.18M627.28 816.5H667.18M647.5 813.5V816.5M664.94 776.5H704.85M664.94 782.5H704.85M685.5 776.5V782.5M702.61 751.5H742.51M702.61 755.5H742.51M722.5 751.5V755.5M740.27 711.5H780.18M740.27 715.5H780.18M760.5 711.5V715.5M777.94 691.5H817.84M777.94 696.5H817.84M798.5 691.5V696.5M853.27 640.5H893.17M853.27 648.5H893.17M873.5 640.5V648.5M928.6 607.5H968.5M928.6 614.5H968.5M948.5 607.5V614.5M1003.93 580.5H1043.83M1003.93 587.5H1043.83M1024.5 580.5V587.5M1079.26 570.5H1119.16M1079.26 578.5H1119.16M1099.5 570.5V578.5M1305.25 590.5H1345.15M1305.25 598.5H1345.15M1325.5 590.5V598.5M1493.57 629.5H1533.47M1493.57 636.5H1533.47M1513.5 629.5V636.5M1681.9 698.5H1721.8M1681.9 706.5H1721.8M1702.5 698.5V706.5M1870.22 772.5H1910.12M1870.22 780.5H1910.12M1890.5 772.5V780.5M2058.55 841.5H2098.45M2058.55 849.5H2098.45M2078.5 841.5V849.5"/>
</g>
<g stroke="#ff5500" stroke-width="1" fill="none" shape-rendering="crispEdges">
<path d="M212.97 1239.5H252.86M212.97 1240.5H252.86M233.5 1239.5V1240.5M250.63 1235.5H290.53M250.63 1236.5H290.53M270.5 1235.5V1236.5M288.3 1227.5H328.19M288.3 1228.5H328.19M308.5 1227.5V1228.5M325.96 1218.5H365.86M325.96 1219.5H365.86M346.5 1218.5V1219.5M363.62 1208.5H403.52M363.62 1209.5H403.52M383.5 1208.5V1209.5M401.29 1197.5H441.19M401.29 1198.5H441.19M421.5 1197.5V1198.5M438.95 1184.5H478.85M438.95 1185.5H478.85M459.5 1184.5V1185.5M476.62 1173.5H516.52M476.62 1174.5H516.52M496.5 1173.5V1174.5M514.28 1162.5H554.19M514.28 1164.5H554.19M534.5 1162.5V1164.5M551.95 1150.5H591.85M551.95 1152.5H591.85M572.5 1150.5V1152.5M589.62 1141.5H629.52M589.62 1144.5H629.52M609.5 1141.5V1144.5M627.28 1132.5H667.18M627.28 1134.5H667.18M647.5 1132.5V1134.5M664.94 1122.5H704.85M664.94 1125.5H704.85M685.5 1122.5V1125.5M702.61 1112.5H742.51M702.61 1114.5H742.51M722.5 1112.5V1114.5M740.27 1106.5H780.18M740.27 1109.5H780.18M760.5 1106.5V1109.5M777.94 1097.5H817.84M777.94 1100.5H817.84M798.5 1097.5V1100.5M853.27 1089.5H893.17M853.27 1092.5H893.17M873.5 1089.5V1092.5M928.6 1079.5H968.5M928.6 1082.5H968.5M948.5 1079.5V1082.5M1003.93 1073.5H1043.83M1003.93 1076.5H1043.83M1024.5 1073.5V1076.5M1079.26 1070.5H1119.16M1079.26 1073.5H1119.16M1099.5 1070.5V1073.5M1305.25 1069.5H1345.15M1305.25 1073.5H1345.15M1325.5 1069.5V1073.5M1493.57 1084.5H1533.47M1493.57 1087.5H1533.47M1513.5 1084.5V1087.5M1681.9 1101.5H1721.8M1681.9 1104.5H1721.8M1702.5 1101.5V1104.5M1870.22 1118.5H1910.12M1870.22 1121.5H1910.12M1890.5 1118.5V1121.5M2058.55 1140.5H2098.45M2058.55 1144.5H2098.45M2078.5 1140.5V1144.5"/>
</g>
<g stroke="#00de80" stroke-width="1" fill="none" shape-rendering="crispEdges">
<path d="M212.97 1240.5H252.86M212.97 1241.5H252.86M233.5 1240.5V1241.5M250.63 1240.5H290.53M250.63 1240.5H290.53M270.5 1240.5V1240.5M288.3 1237.5H328.19M288.3 1238.5H328.19M308.5 1237.5V1238.5M325.96 1233.5H365.86M325.96 1234.5H365.86M346.5 1233.5V1234.5M363.62 1228.5H403.52M363.62 1229.5H403.52M383.5 1228.5V1229.5M401.29 1220.5H441.19M401.29 1221.5H441.19M421.5 1220.5V1221.5M438.95 1210.5H478.85M438.95 1211.5H478.85M459.5 1210.5V1211.5M476.62 1200.5H516.52M476.62 1202.5H516.52M496.5 1200.5V1202.5M514.28 1186.5H554.19M514.28 1188.5H554.19M534.5 1186.5V1188.5M551.95 1169.5H591.85M551.95 1172.5H591.85M572.5 1169.5V1172.5M589.62 1153.5H629.52M589.62 1156.5H629.52M609.5 1153.5V1156.5M627.28 1135.5H667.18M627.28 1139.5H667.18M647.5 1135.5V1139.5M664.94 1115.5H704.85M664.94 1119.5H704.85M685.5 1115.5V1119.5M702.61 1097.5H742.51M702.61 1101.5H742.51M722.5 1097.5V1101.5M740.27 1077.5H780.18M740.27 1081.5H780.18M760.5 1077.5V1081.5M777.94 1059.5H817.84M777.94 1064.5H817.84M798.5 1059.5V1064.5M853.27 1020.5H893.17M853.27 1025.5H893.17M873.5 1020.5V1025.5M928.6 982.5H968.5M928.6 988.5H968.5M948.5 982.5V988.5M1003.93 944.5H1043.83M1003.93 949.5H1043.83M1024.5 944.5V949.5M1079.26 911.5H1119.16M1079.26 917.5H1119.16M1099.5 911.5V917.5M1305.25 834.5H1345.15M1305.25 839.5H1345.15M1325.5 834.5V839.5M1493.57 807.5H1533.47M1493.57 813.5H1533.47M1513.5 807.5V813.5M1681.9 792.5H1721.8M1681.9 799.5H1721.8M1702.5 792.5V799.5M1870.22 806.5H1910.12M1870.22 814.5H1910.12M1890.5 806.5V814.5M2058.55 832.5H2098.45M2058.55 840.5H2098.45M2078.5 832.5V840.5"/>
</g>
<g stroke="#00d2d6" stroke-width="1" fill="none" shape-rendering="crispEdges">
<path d="M250.63 1239.5H290.53M250.63 1240.5H290.53M270.5 1239.5V1240.5M288.3 1239.5H328.19M288.3 1240.5H328.19M308.5 1239.5V1240.5M325.96 1238.5H365.86M325.96 1239.5H365.86M346.5 1238.5V1239.5M363.62 1236.5H403.52M363.62 1237.5H403.52M383.5 1236.5V1237.5M401.29 1232.5H441.19M401.29 1234.5H441.19M421.5 1232.5V1234.5M438.95 1227.5H478.85M438.95 1229.5H478.85M459.5 1227.5V1229.5M476.62 1224.5H516.52M476.62 1225.5H516.52M496.5 1224.5V1225.5M514.28 1219.5H554.19M514.28 1221.5H554.19M534.5 1219.5V1221.5M551.95 1213.5H591.85M551.95 1216.5H591.85M572.5 1213.5V1216.5M589.62 1207.5H629.52M589.62 1210.5H629.52M609.5 1207.5V1210.5M627.28 1198.5H667.18M627.28 1201.5H667.18M647.5 1198.5V1201.5M664.94 1193.5H704.85M664.94 1196.5H704.85M685.5 1193.5V1196.5M702.61 1186.5H742.51M702.61 1189.5H742.51M722.5 1186.5V1189.5M740.27 1180.5H780.18M740.27 1183.5H780.18M760.5 1180.5V1183.5M777.94 1171.5H817.84M777.94 1174.5H817.84M798.5 1171.5V1174.5M853.27 1155.5H893.17M853.27 1158.5H893.17M873.5 1155.5V1158.5M928.6 1140.5H968.5M928.6 1143.5H968.5M948.5 1140.5V1143.5M1003.93 1126.5H1043.83M1003.93 1130.5H1043.83M1024.5 1126.5V1130.5M1079.26 1114.5H1119.16M1079.26 1117.5H1119.16M1099.5 1114.5V1117.5M1305.25 1085.5H1345.15M1305.25 1088.5H1345.15M1325.5 1085.5V1088.5M1493.57 1071.5H1533.47M1493.57 1074.5H1533.47M1513.5 1071.5V1074.5M1681.9 1067.5H1721.8M1681.9 1070.5H1721.8M1702.5 1067.5V1070.5M1870.22 1073.5H1910.12M1870.22 1076.5H1910.12M1890.5 1073.5V1076.5M2058.55 1085.5H2098.45M2058.55 1089.5H2098.45M2078.5 1085.5V1089.5"/>
</g>
</g>
<g stroke="#000" stroke-width="1" fill="none" shape-rendering="crispEdges">
<path d="M195.5 31V1242M195 1241.5H2154"/>
<path d="M572.5 1241.5V1225M948.5 1241.5V1225M1325.5 1241.5V1225M1702.5 1241.5V1225M2078.5 1241.5V1225M195.5 863.5H212M195.5 484.5H212M195.5 106.5H212"/>
</g>
<text transform="translate(181.24,1286.2) scale(0.945,1.04)" font-size="43" text-anchor="start" fill="#000" stroke="#000" stroke-width="1" letter-spacing="1.39">0</text>
<text transform="translate(522.02,1286.2) scale(0.945,1.04)" font-size="43" text-anchor="start" fill="#000" stroke="#000" stroke-width="1" letter-spacing="1.39">1000</text>
<text transform="translate(898.67,1286.2) scale(0.945,1.04)" font-size="43" text-anchor="start" fill="#000" stroke="#000" stroke-width="1" letter-spacing="1.39">2000</text>
<text transform="translate(1275.32,1286.2) scale(0.945,1.04)" font-size="43" text-anchor="start" fill="#000" stroke="#000" stroke-width="1" letter-spacing="1.39">3000</text>
<text transform="translate(1651.97,1286.2) scale(0.945,1.04)" font-size="43" text-anchor="start" fill="#000" stroke="#000" stroke-width="1" letter-spacing="1.39">4000</text>
<text transform="translate(2028.62,1286.2) scale(0.945,1.04)" font-size="43" text-anchor="start" fill="#000" stroke="#000" stroke-width="1" letter-spacing="1.39">5000</text>
<text transform="translate(149.6,1254.2) scale(0.945,1.04)" font-size="43" text-anchor="start" fill="#000" stroke="#000" stroke-width="1" letter-spacing="1.39">0.</text>
<text transform="translate(126.2,876.5) scale(0.945,1.04)" font-size="43" text-anchor="start" fill="#000" stroke="#000" stroke-width="1" letter-spacing="1.39">0.1</text>
<text transform="translate(126.2,498.1) scale(0.945,1.04)" font-size="43" text-anchor="start" fill="#000" stroke="#000" stroke-width="1" letter-spacing="1.39">0.2</text>
<text transform="translate(126.2,119.7) scale(0.945,1.04)" font-size="43" text-anchor="start" fill="#000" stroke="#000" stroke-width="1" letter-spacing="1.39">0.3</text>
<text transform="translate(808.3,1378.7) scale(1,1.04)" font-size="70.9" text-anchor="start" fill="#000" stroke="#000" stroke-width="1">Number of segments N</text>
<text transform="translate(89.5,1186) rotate(-90) scale(1,1.04)" font-size="76.75" text-anchor="start" fill="#000" stroke="#000" stroke-width="1">Knot Probabilities of r=0.03 SAP</text>
<rect x="1463.5" y="105.5" width="665" height="277" fill="#fff" stroke="#808080" stroke-width="1" shape-rendering="crispEdges"/>
<g fill="#ff5500" shape-rendering="crispEdges"><polygon points="1526.1,114.43 1551.97,159.74 1500.23,159.74"/></g>
<text transform="translate(1721.8,153.4) scale(1,1.04)" font-size="49.8" text-anchor="start" fill="#ff5500" stroke="#ff5500" stroke-width="1.7" letter-spacing="0.67" xml:space="preserve">3<tspan dy="8.71" dx="0.3" font-size="35.36">1</tspan><tspan dy="-8.71" dx="1" letter-spacing="0.2"> knot</tspan></text>
<g fill="#fa0028" shape-rendering="crispEdges"><polygon points="1523.6,167.27 1530.42,183.57 1548.03,185.02 1534.64,196.55 1538.7,213.74 1523.6,204.57 1508.5,213.74 1512.56,196.55 1499.17,185.02 1516.78,183.57"/></g>
<text transform="translate(1721.8,206.6) scale(1,1.04)" font-size="49.8" text-anchor="start" fill="#fa0028" stroke="#fa0028" stroke-width="1.7" letter-spacing="0.67" xml:space="preserve">3<tspan dy="8.71" dx="0.3" font-size="35.36">1</tspan></text>
<text transform="translate(1776.6,205.8) scale(1.29,1.04) skewX(12.3)" font-size="51" fill="#fa0028" stroke="#fa0028" stroke-width="1.4">#</text>
<text transform="translate(1811.4,206.6) scale(1,1.04)" font-size="49.8" text-anchor="start" fill="#fa0028" stroke="#fa0028" stroke-width="1.7" letter-spacing="0.67" xml:space="preserve">3<tspan dy="8.71" dx="0.3" font-size="35.36">1</tspan><tspan dy="-8.71" dx="1" letter-spacing="0.2"> knot</tspan></text>
<g fill="#ff5500" shape-rendering="crispEdges"><rect x="1500" y="222" width="45" height="45"/></g>
<text transform="translate(1721.8,260.3) scale(1,1.04)" font-size="49.8" text-anchor="start" fill="#ff5500" stroke="#ff5500" stroke-width="1.7" letter-spacing="0.67" xml:space="preserve">3<tspan dy="8.71" dx="0.3" font-size="35.36">1</tspan></text>
<text transform="translate(1776.6,259.5) scale(1.29,1.04) skewX(12.3)" font-size="51" fill="#ff5500" stroke="#ff5500" stroke-width="1.4">#</text>
<text transform="translate(1811.4,260.3) scale(1,1.04)" font-size="49.8" text-anchor="start" fill="#ff5500" stroke="#ff5500" stroke-width="1.7" letter-spacing="0.67" xml:space="preserve">4<tspan dy="8.71" dx="0.3" font-size="35.36">1</tspan><tspan dy="-8.71" dx="1" letter-spacing="0.2"> knot</tspan></text>
<g fill="#00de80" shape-rendering="crispEdges"><circle cx="1522.3" cy="297.6" r="22.59"/></g>
<text transform="translate(1721.8,313.6) scale(1,1.04)" font-size="49.8" text-anchor="start" fill="#00de80" stroke="#00de80" stroke-width="1.7" letter-spacing="0.67" xml:space="preserve">3<tspan dy="8.71" dx="0.3" font-size="35.36">1</tspan></text>
<text transform="translate(1776.6,312.8) scale(1.29,1.04) skewX(12.3)" font-size="51" fill="#00de80" stroke="#00de80" stroke-width="1.4">#</text>
<text transform="translate(1811.4,313.6) scale(1,1.04)" font-size="49.8" text-anchor="start" fill="#00de80" stroke="#00de80" stroke-width="1.7" letter-spacing="0.67" xml:space="preserve">3<tspan dy="8.71" dx="0.3" font-size="35.36">1</tspan></text>
<text transform="translate(1866.2,312.8) scale(1.29,1.04) skewX(12.3)" font-size="51" fill="#00de80" stroke="#00de80" stroke-width="1.4">#</text>
<text transform="translate(1901,313.6) scale(1,1.04)" font-size="49.8" text-anchor="start" fill="#00de80" stroke="#00de80" stroke-width="1.7" letter-spacing="0.67" xml:space="preserve">3<tspan dy="8.71" dx="0.3" font-size="35.36">1</tspan><tspan dy="-8.71" dx="1" letter-spacing="0.2"> knot</tspan></text>
<g fill="#00d2d6" shape-rendering="crispEdges"><polygon points="1522.3,328.38 1545.02,351.1 1522.3,373.82 1499.58,351.1"/></g>
<text transform="translate(1721.8,367.1) scale(1,1.04)" font-size="49.8" text-anchor="start" fill="#00d2d6" stroke="#00d2d6" stroke-width="1.7" letter-spacing="0.67" xml:space="preserve">3<tspan dy="8.71" dx="0.3" font-size="35.36">1</tspan></text>
<text transform="translate(1776.6,366.3) scale(1.29,1.04) skewX(12.3)" font-size="51" fill="#00d2d6" stroke="#00d2d6" stroke-width="1.4">#</text>
<text transform="translate(1811.4,367.1) scale(1,1.04)" font-size="49.8" text-anchor="start" fill="#00d2d6" stroke="#00d2d6" stroke-width="1.7" letter-spacing="0.67" xml:space="preserve">3<tspan dy="8.71" dx="0.3" font-size="35.36">1</tspan></text>
<text transform="translate(1866.2,366.3) scale(1.29,1.04) skewX(12.3)" font-size="51" fill="#00d2d6" stroke="#00d2d6" stroke-width="1.4">#</text>
<text transform="translate(1901,367.1) scale(1,1.04)" font-size="49.8" text-anchor="start" fill="#00d2d6" stroke="#00d2d6" stroke-width="1.7" letter-spacing="0.67" xml:space="preserve">4<tspan dy="8.71" dx="0.3" font-size="35.36">1</tspan><tspan dy="-8.71" dx="1" letter-spacing="0.2"> knot</tspan></text>
</svg>
</body></html>
